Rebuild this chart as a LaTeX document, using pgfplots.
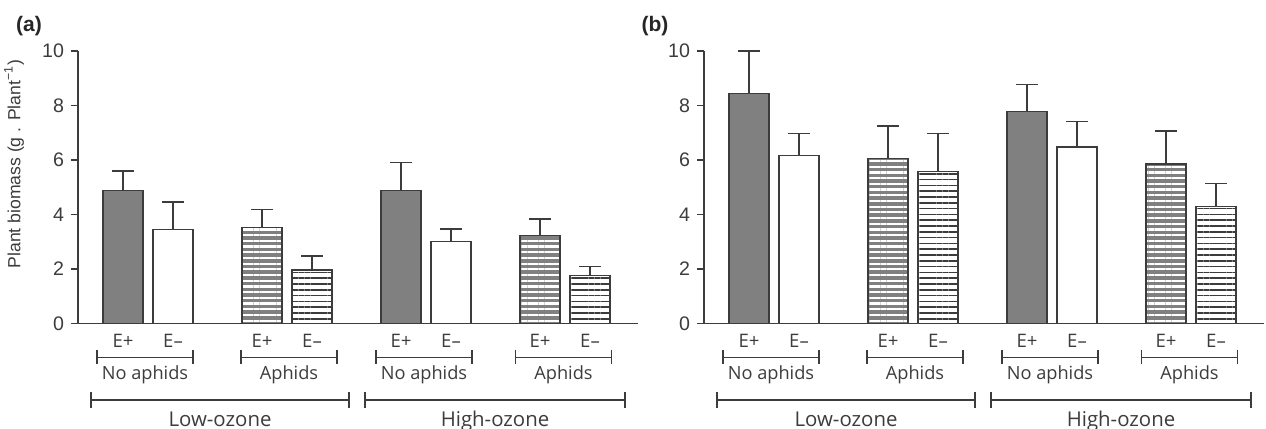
\documentclass[border=0pt]{standalone}
\usepackage{fontspec}
\setmainfont{Open Sans}
\newfontfamily\arialfont{Liberation Sans}
\usepackage{pgfplots}
\pgfplotsset{compat=1.18}
\usetikzlibrary{patterns.meta}
\definecolor{barGrey}{RGB}{128,128,128}
\definecolor{lineCol}{RGB}{60,60,60}

\pgfplotsset{
  panel/.style={
    scale only axis, width=280pt, height=136.25pt,
    xmin=-0.9, xmax=10.3, ymin=0, ymax=10,
    axis x line=bottom, axis y line=left,
    axis line style={-, draw=lineCol, line width=0.75pt},
    ytick={0,2,4,6,8,10},
    tick align=outside, major tick length=3.5pt,
    ytick style={draw=lineCol, line width=0.75pt},
    xtick style={draw=none},
    xtick={0,1,2.78,3.78,5.56,6.56,8.34,9.34},
    xticklabels={E+,E–,E+,E–,E+,E–,E+,E–},
    xticklabel style={anchor=base, yshift=-8.6pt, font=\fontsize{9.3}{10}\selectfont, text=lineCol},
    yticklabel style={font=\arialfont\fontsize{9.8}{11}\selectfont, text=lineCol},
    /pgf/number format/assume math mode=true,
    ybar, bar shift=0pt, bar width=0.8,
    clip=false,
    every axis plot/.append style={draw=lineCol, line width=0.7pt},
    error bars/y dir=plus, error bars/y explicit,
    error bars/error bar style={draw=lineCol, line width=0.75pt},
    error bars/error mark options={draw=lineCol, line width=0.75pt, mark size=5.3pt, rotate=90},
  },
  solidbar/.style={fill=barGrey},
  whitebar/.style={fill=white},
  greystripe/.style={fill=barGrey, postaction={pattern={Lines[angle=0,distance=2.85pt,line width=1.1pt]}, pattern color=white}},
  whitestripe/.style={fill=white, postaction={pattern={Lines[angle=0,distance=2.9pt,line width=0.75pt]}, pattern color=lineCol}},
}

\newcommand{\groupbrackets}{%
  \draw[lineCol, line width=0.75pt] (axis cs:-0.52,-1.24) -- (axis cs:1.40,-1.24);
  \draw[lineCol, line width=0.75pt] (axis cs:-0.52,-0.98) -- (axis cs:-0.52,-1.50);
  \draw[lineCol, line width=0.75pt] (axis cs:1.40,-0.98) -- (axis cs:1.40,-1.50);
  \draw[lineCol, line width=0.75pt] (axis cs:2.36,-1.24) -- (axis cs:4.28,-1.24);
  \draw[lineCol, line width=0.75pt] (axis cs:2.36,-0.98) -- (axis cs:2.36,-1.50);
  \draw[lineCol, line width=0.75pt] (axis cs:4.28,-0.98) -- (axis cs:4.28,-1.50);
  \draw[lineCol, line width=0.75pt] (axis cs:5.06,-1.24) -- (axis cs:6.98,-1.24);
  \draw[lineCol, line width=0.75pt] (axis cs:5.06,-0.98) -- (axis cs:5.06,-1.50);
  \draw[lineCol, line width=0.75pt] (axis cs:6.98,-0.98) -- (axis cs:6.98,-1.50);
  \draw[lineCol, line width=0.75pt] (axis cs:7.85,-1.24) -- (axis cs:9.77,-1.24);
  \draw[lineCol, line width=0.75pt] (axis cs:7.85,-0.98) -- (axis cs:7.85,-1.50);
  \draw[lineCol, line width=0.75pt] (axis cs:9.77,-0.98) -- (axis cs:9.77,-1.50);
  \node[anchor=base, font=\fontsize{9.1}{10}\selectfont, text=lineCol] at (axis cs:0.44,-2.04) {No aphids};
  \node[anchor=base, font=\fontsize{9.1}{10}\selectfont, text=lineCol] at (axis cs:3.32,-2.04) {Aphids};
  \node[anchor=base, font=\fontsize{9.1}{10}\selectfont, text=lineCol] at (axis cs:6.02,-2.04) {No aphids};
  \node[anchor=base, font=\fontsize{9.1}{10}\selectfont, text=lineCol] at (axis cs:8.81,-2.04) {Aphids};
  \draw[lineCol, line width=0.75pt] (axis cs:-0.64,-2.81) -- (axis cs:4.52,-2.81);
  \draw[lineCol, line width=0.75pt] (axis cs:-0.64,-2.52) -- (axis cs:-0.64,-3.10);
  \draw[lineCol, line width=0.75pt] (axis cs:4.52,-2.52) -- (axis cs:4.52,-3.10);
  \draw[lineCol, line width=0.75pt] (axis cs:4.84,-2.81) -- (axis cs:10.04,-2.81);
  \draw[lineCol, line width=0.75pt] (axis cs:4.84,-2.52) -- (axis cs:4.84,-3.10);
  \draw[lineCol, line width=0.75pt] (axis cs:10.04,-2.52) -- (axis cs:10.04,-3.10);
  \node[anchor=base, font=\fontsize{10.2}{11}\selectfont, text=lineCol] at (axis cs:1.94,-3.79) {Low-ozone};
  \node[anchor=base, font=\fontsize{10.2}{11}\selectfont, text=lineCol] at (axis cs:7.44,-3.79) {High-ozone};
}

\begin{document}
\begin{tikzpicture}
\path[use as bounding box] (0,0) rectangle (633pt,214.5pt);

% Panel (a)
\begin{axis}[panel, at={(39pt,52.75pt)}, anchor=south west,
  ylabel={Plant biomass (g . Plant\textsuperscript{−1})},
  ylabel style={at={(rel axis cs:-0.114,0.585)}, anchor=center, font=\arialfont\fontsize{8.8}{10}\selectfont, text=lineCol}]
\addplot[solidbar] coordinates {(0,4.88) +- (0,0.71) (5.56,4.89) +- (0,1.01)};
\addplot[whitebar] coordinates {(1,3.45) +- (0,1.00) (6.56,3.00) +- (0,0.47)};
\addplot[greystripe] coordinates {(2.78,3.52) +- (0,0.66) (8.34,3.24) +- (0,0.60)};
\addplot[whitestripe] coordinates {(3.78,1.97) +- (0,0.50) (9.34,1.76) +- (0,0.34)};
\groupbrackets
\node[font=\arialfont\bfseries\fontsize{10.5}{12}\selectfont, text=black!85] at (rel axis cs:-0.0875,1.092) {(a)};
\end{axis}

% Panel (b)
\begin{axis}[panel, at={(352pt,52.75pt)}, anchor=south west]
\addplot[solidbar] coordinates {(0,8.44) +- (0,1.56) (5.56,7.79) +- (0,0.98)};
\addplot[whitebar] coordinates {(1,6.17) +- (0,0.80) (6.56,6.48) +- (0,0.94)};
\addplot[greystripe] coordinates {(2.78,6.06) +- (0,1.18) (8.34,5.86) +- (0,1.20)};
\addplot[whitestripe] coordinates {(3.78,5.57) +- (0,1.40) (9.34,4.30) +- (0,0.83)};
\groupbrackets
\node[font=\arialfont\bfseries\fontsize{10.5}{12}\selectfont, text=black!85] at (rel axis cs:-0.0875,1.092) {(b)};
\end{axis}
\end{tikzpicture}
\end{document}
